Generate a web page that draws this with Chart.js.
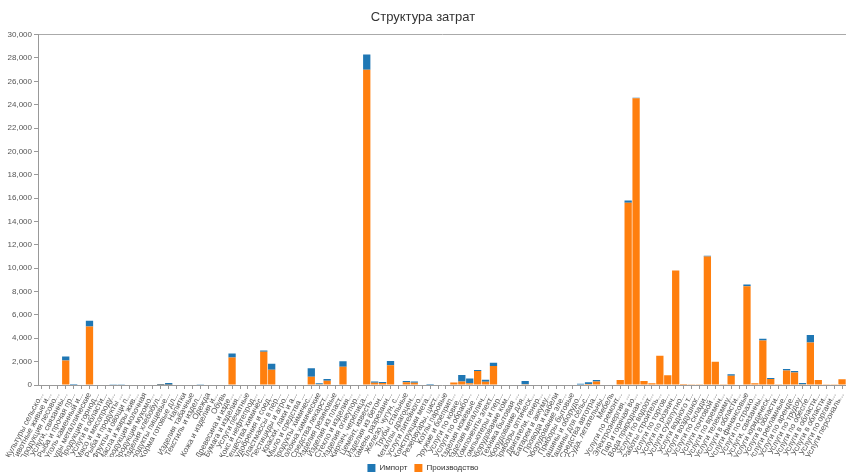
<!DOCTYPE html>
<html>
<head>
<meta charset="utf-8">
<title>Структура затрат</title>
<script src="https://cdn.jsdelivr.net/npm/chart.js@4.4.1/dist/chart.umd.min.js"></script>
<style>
  body { margin: 0; background: #fff; }
  #costChart { display: block; }
</style>
</head>
<body>
<canvas id="costChart" width="846" height="475"></canvas>
<script>
// Categories (cost items)
const categories = [
  'Культуры сельскохозяйственные', 'Животные живые и продукты животноводства', 'Продукция лесоводства',
  'Услуги, связанные с лесоводством', 'Рыба и прочая продукция рыболовства', 'Уголь каменный и бурый',
  'Руды металлические', 'Продукция горнодобывающих производств', 'Услуги в области добычи полезных ископаемых',
  'Мясо и мясопродукты', 'Рыба и продукты рыбные переработанные', 'Фрукты и овощи переработанные',
  'Масла и жиры животные и растительные', 'Продукция молочная', 'Продукция мукомольной промышленности',
  'Изделия хлебобулочные и мучные', 'Продукты пищевые прочие', 'Корма готовые для животных',
  'Напитки', 'Изделия табачные', 'Текстиль и изделия текстильные', 'Одежда', 'Кожа и изделия из кожи',
  'Обувь', 'Древесина и изделия из дерева', 'Бумага и изделия из бумаги', 'Услуги печатные',
  'Кокс и нефтепродукты', 'Вещества химические основные', 'Удобрения и соединения азотные',
  'Пластмассы в первичных формах', 'Пестициды и агрохимическая продукция', 'Краски, лаки и аналогичные материалы',
  'Мыло и средства моющие', 'Продукты химические прочие', 'Волокна химические', 'Средства лекарственные',
  'Изделия резиновые', 'Изделия из пластмасс', 'Стекло и изделия из стекла', 'Изделия огнеупорные',
  'Кирпич, черепица и строительные изделия', 'Цемент, известь и гипс', 'Изделия из бетона, цемента и гипса',
  'Камень разрезанный и обработанный', 'Железо, чугун, сталь и ферросплавы', 'Трубы стальные',
  'Металлы драгоценные и цветные', 'Услуги литейного производства', 'Конструкции металлические строительные',
  'Резервуары, цистерны и контейнеры', 'Котлы паровые', 'Оружие и боеприпасы',
  'Услуги по ковке, прессованию, штамповке', 'Услуги по обработке металлов', 'Изделия ножевые и инструменты',
  'Изделия металлические готовые прочие', 'Компоненты электронные и платы', 'Компьютеры и периферийное оборудование',
  'Оборудование коммуникационное', 'Техника бытовая электронная', 'Оборудование для измерений и испытаний',
  'Приборы оптические и фотооборудование', 'Двигатели, генераторы и трансформаторы', 'Батареи и аккумуляторы',
  'Провода и кабели', 'Оборудование электрическое осветительное', 'Приборы бытовые',
  'Машины и оборудование общего назначения', 'Машины для сельского и лесного хозяйства', 'Средства автотранспортные',
  'Суда, летательные аппараты', 'Мебель', 'Услуги по ремонту и монтажу машин',
  'Электроэнергия, передача и распределение', 'Пар и горячая вода (тепловая энергия)',
  'Вода природная, услуги по очистке воды', 'Услуги по водоотведению', 'Работы строительные специализированные',
  'Услуги по торговле оптовой', 'Услуги по розничной торговле', 'Услуги сухопутного транспорта',
  'Услуги водного транспорта', 'Услуги воздушного транспорта', 'Услуги по складированию и транспортные',
  'Услуги почтовой связи и курьерские', 'Услуги по временному проживанию', 'Услуги телекоммуникационные',
  'Услуги в области информационных технологий', 'Услуги финансовые', 'Услуги по страхованию',
  'Услуги, связанные с недвижимым имуществом', 'Услуги юридические и бухгалтерские', 'Услуги в области архитектуры',
  'Услуги рекламные и по исследованию рынка', 'Услуги по аренде и лизингу', 'Услуги по трудоустройству',
  'Услуги по обеспечению безопасности', 'Услуги в области образования', 'Услуги в области здравоохранения',
  'Услуги по организации отдыха', 'Услуги персональные прочие'
];

// Производство (bottom of the stack)
const production = [
  0, 0, 0, 2100, 0, 0, 5000, 0, 0, 0,
  0, 0, 0, 0, 0, 30, 20, 0, 0, 0,
  0, 0, 0, 0, 2350, 0, 0, 0, 2850, 1300,
  0, 0, 0, 0, 710, 60, 370, 0, 1570, 0,
  0, 27000, 200, 170, 1690, 0, 230, 200, 0, 0,
  0, 0, 220, 300, 150, 1200, 270, 1630, 0, 0,
  0, 60, 0, 0, 0, 0, 0, 0, 0, 90,
  290, 0, 0, 430, 15600, 24550, 340, 150, 2500, 830,
  9800, 90, 30, 30, 11000, 2000, 30, 800, 0, 8450,
  140, 3800, 520, 30, 1250, 1060, 60, 3630, 430, 20,
  20, 490
];

// Импорт (top of the stack)
const imports = [
  0, 0, 0, 330, 80, 0, 510, 0, 0, 20,
  20, 0, 0, 0, 0, 60, 150, 0, 0, 0,
  20, 0, 0, 40, 350, 0, 0, 0, 100, 530,
  0, 0, 0, 0, 720, 80, 140, 0, 460, 40,
  0, 1300, 90, 90, 370, 50, 110, 90, 0, 90,
  0, 0, 0, 550, 400, 80, 190, 280, 0, 0,
  0, 280, 0, 0, 0, 0, 0, 0, 110, 140,
  140, 0, 0, 0, 200, 50, 0, 0, 0, 0,
  0, 0, 0, 0, 60, 0, 0, 110, 50, 150,
  0, 150, 80, 0, 120, 140, 110, 660, 0, 0,
  0, 0
];

const yTicks = [0, 2000, 4000, 6000, 8000, 10000, 12000, 14000, 16000, 18000, 20000, 22000, 24000, 26000, 28000, 30000];

const FONT = 'Arial, "Liberation Sans", sans-serif';

// cut long category names like the original axis does
const shortLabel = (s) => (s.length > 18 ? s.slice(0, 16) + '...' : s);

const ctx = document.getElementById('costChart').getContext('2d');
new Chart(ctx, {
  type: 'bar',
  data: {
    labels: categories,
    datasets: [
      {
        label: 'Производство',
        data: production,
        backgroundColor: '#ff7f0e',
        barPercentage: 0.92,
        categoryPercentage: 1.0,
      },
      {
        label: 'Импорт',
        data: imports,
        backgroundColor: '#1f77b4',
        barPercentage: 0.92,
        categoryPercentage: 1.0,
      },
    ],
  },
  options: {
    responsive: false,
    animation: false,
    // negative bottom padding pushes the legend row to the very bottom
    layout: { padding: { left: 0, right: 0, top: 0, bottom: -7 } },
    plugins: {
      title: {
        display: true,
        text: 'Структура затрат',
        color: '#333',
        font: { family: FONT, size: 13, weight: 'normal' },
        padding: { top: 10, bottom: 9 },
      },
      legend: {
        position: 'bottom',
        reverse: true,
        labels: {
          color: '#333',
          font: { family: FONT, size: 8 },
          boxWidth: 8,
          boxHeight: 8,
          padding: 7,
        },
      },
      tooltip: { enabled: false },
    },
    scales: {
      x: {
        stacked: true,
        afterFit: (scale) => {
          scale.height = 72;
          scale.paddingLeft = 0;
          scale.paddingRight = 0;
        },
        grid: {
          offset: false,
          drawOnChartArea: false,
          color: '#999',
          tickLength: 4,
        },
        border: { color: '#999' },
        ticks: {
          autoSkip: false,
          minRotation: 62,
          maxRotation: 62,
          padding: 2,
          color: '#555',
          font: { family: FONT, size: 8 },
          callback: function (value) {
            return shortLabel(this.getLabelForValue(value));
          },
        },
      },
      y: {
        stacked: true,
        min: 0,
        max: 30000,
        afterFit: (scale) => { scale.width = 38; },
        afterBuildTicks: (scale) => {
          scale.ticks = yTicks.map((v) => ({ value: v }));
        },
        grid: {
          color: (c) => (c.tick && c.tick.value === 30000 ? '#aaa' : 'rgba(0,0,0,0)'),
          tickColor: '#999',
          tickLength: 4,
        },
        border: { color: '#999' },
        ticks: {
          padding: 2,
          color: '#555',
          font: { family: FONT, size: 8 },
          callback: (value) => value.toLocaleString('en-US'),
        },
      },
    },
  },
});
</script>
</body>
</html>
